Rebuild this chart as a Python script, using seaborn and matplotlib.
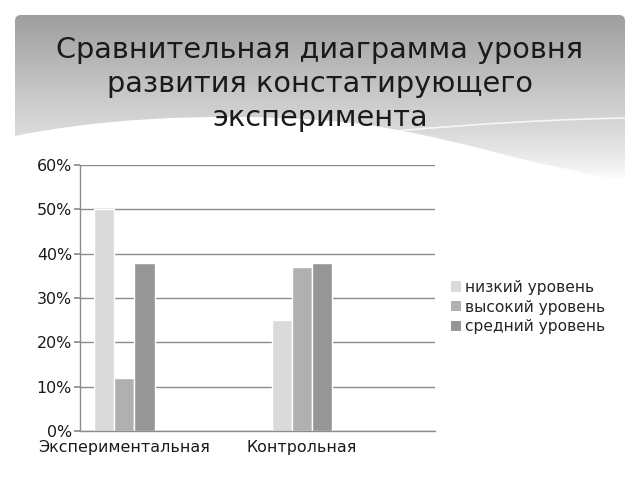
import numpy as np
import pandas as pd
import matplotlib
matplotlib.use("Agg")
import matplotlib.pyplot as plt
import seaborn as sns
from matplotlib.patches import FancyBboxPatch, Patch, PathPatch
from matplotlib.path import Path
from matplotlib.ticker import PercentFormatter

# data
groups = ["Экспериментальная", " ", "Контрольная", "  "]
levels = ["низкий уровень", "высокий уровень", "средний уровень"]
exp_vals = [0.50, 0.12, 0.38]
ctrl_vals = [0.25, 0.37, 0.38]
colors = ["#dadada", "#b0b0b0", "#969696"]

df = pd.DataFrame({
    "group": [groups[0]] * 3 + [groups[2]] * 3,
    "level": levels * 2,
    "value": exp_vals + ctrl_vals,
})

sns.set_theme(style="white")
plt.rcParams["font.family"] = ["DejaVu Sans"]

fig = plt.figure(figsize=(6.4, 4.8), dpi=100)

# slide background: grey gradient header with white swooshes
bg = fig.add_axes([0, 0, 1, 1], zorder=-5)
bg.set_xlim(0, 640)
bg.set_ylim(480, 0)
bg.axis("off")
grad = np.linspace(0, 1, 200).reshape(-1, 1)
cmap = matplotlib.colors.LinearSegmentedColormap.from_list(
    "g", [(0, "#9e9e9e"), (0.45, "#c6c6c6"), (0.7, "#dadada"),
          (0.9, "#efefef"), (1, "#ffffff")])
img = bg.imshow(grad, cmap=cmap, extent=(15, 625, 182, 15), aspect="auto")
panel = FancyBboxPatch((15, 15), 610, 167, boxstyle="round,pad=0,rounding_size=6",
                       transform=bg.transData, facecolor="none", edgecolor="none")
bg.add_patch(panel)
img.set_clip_path(panel)

# main white wave
wave = Path([(10, 137), (90, 120), (200, 112), (320, 120),
             (440, 128), (540, 172), (630, 180),
             (630, 220), (10, 220), (10, 137)],
            [Path.MOVETO, Path.CURVE4, Path.CURVE4, Path.CURVE4,
             Path.CURVE4, Path.CURVE4, Path.CURVE4,
             Path.LINETO, Path.LINETO, Path.CLOSEPOLY])
bg.add_patch(PathPatch(wave, facecolor="white", edgecolor="none"))

# thin light swoosh lines
for pts in [[(300, 140), (420, 128), (520, 120), (625, 118)],
            [(240, 118), (360, 130), (470, 150), (580, 172)]]:
    sw = Path(pts, [Path.MOVETO, Path.CURVE4, Path.CURVE4, Path.CURVE4])
    bg.add_patch(PathPatch(sw, facecolor="none", edgecolor="white", lw=1.2, alpha=0.8))

fig.text(0.5, 0.825, "Сравнительная диаграмма уровня\nразвития констатирующего\nэксперимента",
         ha="center", va="center", fontsize=20.7, color="#1a1a1a", linespacing=1.27)

ax = fig.add_axes([0.125, 0.102, 0.555, 0.554])
ax.set_facecolor("none")
sns.barplot(data=df, x="group", y="value", hue="level", order=groups,
            hue_order=levels, palette=colors, width=0.68, ax=ax,
            saturation=1, legend=False)

ax.set_xlim(-0.5, 3.5)
ax.set_ylim(0, 0.6)
ax.set_yticks(np.arange(0, 0.61, 0.1))
ax.yaxis.set_major_formatter(PercentFormatter(1.0, decimals=0))
ax.yaxis.grid(True, color="#8c8c8c", linewidth=1)
ax.set_axisbelow(True)
ax.set_xlabel("")
ax.set_ylabel("")
ax.set_xticks([0, 2], [groups[0], groups[2]])
ax.set_xticks(np.arange(-0.5, 3.6, 1), minor=True)
ax.tick_params(axis="x", which="major", length=0, labelsize=11.4, colors="#1a1a1a", pad=6.5)
ax.tick_params(axis="x", which="minor", length=3.6, color="#8c8c8c", width=1, direction="out")
ax.tick_params(axis="y", length=4.3, color="#8c8c8c", labelsize=11.4, colors="#1a1a1a",
               left=True, pad=1.5)
for s in ["top", "right"]:
    ax.spines[s].set_visible(False)
for s in ["left", "bottom"]:
    ax.spines[s].set_color("#8c8c8c")
    ax.spines[s].set_linewidth(1)

handles = [Patch(facecolor=c, edgecolor="none") for c in colors]
fig.legend(handles, levels, loc="center left", bbox_to_anchor=(0.693, 0.36),
           frameon=False, fontsize=11.2, handlelength=0.65, handleheight=0.65,
           handletextpad=0.25, labelspacing=0.3, borderpad=0)

fig.savefig("out.png", dpi=100)
